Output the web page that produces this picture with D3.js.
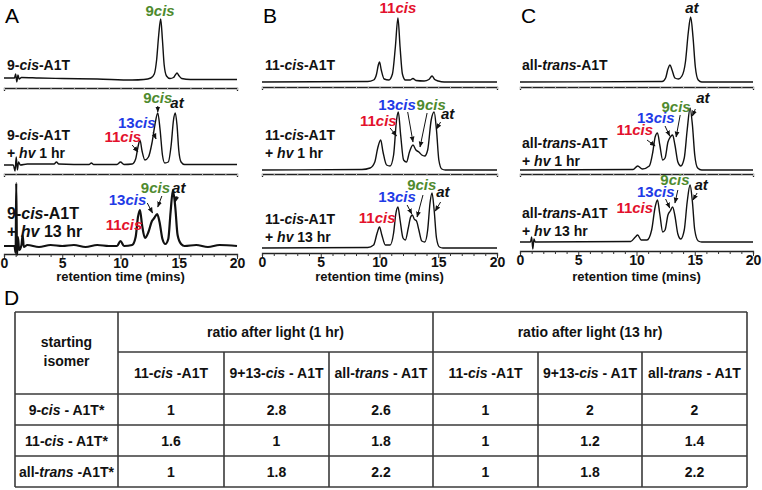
<!DOCTYPE html>
<meta charset="utf-8">
<script src="https://d3js.org/d3.v7.min.js"></script>
<body style="margin:0;background:#fff">
<div id="fig"></div>
</body>
<script>
// ---- data: HPLC traces, [time (min), signal] ----
const timeTicks = [0, 5, 10, 15, 20];

const a1 = [[0,2],[0.9,2],[1.0,6],[1.1,-2],[1.2,5],[1.3,1],[1.5,2.5],[3,2],[5,1.5],[8,1],[11,0],[12,0.5],[12.6,2],[12.9,6],[13.1,20],[13.28,45],[13.45,61],[13.6,40],[13.75,15],[13.95,4],[14.25,1.5],[14.55,2.5],[14.7,5],[14.85,7],[15.0,4.5],[15.25,1.5],[16,0.5],[20,0.5]];
const a2 = [[0,0],[0.8,0],[0.95,-6],[1.05,8],[1.15,-5],[1.25,3],[1.4,0],[2,1],[4.3,1],[4.5,3],[4.7,1],[7.3,0.5],[7.5,2],[7.7,0.5],[9.7,0.5],[10,3],[10.3,0.5],[11,1],[11.3,6],[11.5,18],[11.67,25],[11.85,14],[12.1,5],[12.4,8],[12.7,22],[12.95,40],[13.2,52],[13.4,35],[13.6,10],[13.8,2],[14.1,3],[14.35,20],[14.55,45],[14.7,52],[14.85,40],[15.0,15],[15.2,3],[15.5,0.5],[20,0.5]];
const a3 = [[0,1],[0.9,1],[1.0,-6],[1.05,64],[1.12,-8],[1.2,10],[1.3,-3],[1.5,2],[1.6,12],[1.7,0],[2,2],[3,0],[4,2],[5,1],[6,2],[7,0],[8,2],[9,1],[9.7,1],[10,6],[10.3,1],[11,2],[11.3,10],[11.5,30],[11.67,37],[11.85,22],[12.1,9],[12.4,15],[12.7,26],[12.9,29],[13.15,33],[13.35,25],[13.6,8],[13.85,3],[14.1,8],[14.3,35],[14.5,57],[14.7,40],[14.9,12],[15.2,3],[15.5,1],[16.5,2],[17.5,0],[18.5,2],[20,1]];

const b1 = [[0,0],[9,0.5],[9.5,2],[9.75,8],[9.9,17],[10.0,20],[10.15,12],[10.4,3],[10.8,2],[11.1,8],[11.35,35],[11.57,64],[11.75,35],[11.95,8],[12.2,2],[12.6,2],[12.85,3.5],[13.1,1.5],[13.8,1],[14.2,2.5],[14.47,6],[14.7,2.5],[15,1],[15.5,0],[20,0]];
const b2 = [[0,0],[8.5,0.5],[9.2,2],[9.6,8],[9.85,22],[10.1,30],[10.3,18],[10.6,5],[10.9,4],[11.2,15],[11.45,50],[11.6,58],[11.8,35],[12.05,10],[12.3,8],[12.55,18],[12.85,25],[13.1,20],[13.35,18],[13.6,15],[13.85,14],[14.1,20],[14.4,50],[14.65,58],[14.85,40],[15.05,10],[15.3,1],[15.6,0],[20,0]];
const b3 = [[0,0],[9,0.5],[9.5,3],[9.8,15],[10.0,21],[10.2,13],[10.5,3],[10.9,3],[11.2,15],[11.4,35],[11.57,41],[11.75,28],[12.0,10],[12.2,8],[12.45,20],[12.65,31],[12.8,33],[12.95,29],[13.15,27],[13.35,18],[13.6,7],[13.85,6],[14.1,18],[14.3,45],[14.47,55],[14.65,38],[14.85,10],[15.1,1],[15.4,0],[20,0]];

const c1 = [[0,0],[12.2,0.5],[12.5,4],[12.7,13],[12.88,17],[13.05,12],[13.3,4],[13.6,3],[13.9,6],[14.2,20],[14.45,50],[14.65,65],[14.85,45],[15.05,15],[15.3,2],[15.6,0],[20,0]];
const c2 = [[0,0],[9.7,0.5],[10.1,4],[10.5,1],[11.1,4],[11.4,18],[11.6,33],[11.8,37],[12.0,25],[12.25,10],[12.45,12],[12.7,28],[12.9,33],[13.1,35],[13.3,25],[13.55,8],[13.8,4],[14.1,12],[14.35,40],[14.6,62],[14.8,45],[15.0,15],[15.25,2],[15.6,0],[20,0]];
const c3 = [[0,0],[0.9,0],[1.0,5],[1.1,-7],[1.2,3],[1.3,0],[9.5,0.5],[9.9,5],[10.1,7],[10.4,2],[10.9,2],[11.3,12],[11.6,35],[11.8,42],[12.0,28],[12.25,10],[12.45,12],[12.7,27],[12.9,31],[13.1,35],[13.3,26],[13.55,8],[13.8,3],[14.1,12],[14.35,40],[14.6,57],[14.8,40],[15.0,12],[15.3,1],[15.6,0],[20,0]];

// sample names
const namesA = ["9-<i>cis</i>-A1T", "9-<i>cis</i>-A1T|+ <i>hv</i> 1 hr", "9-<i>cis</i>-A1T|+ <i>hv</i> 13 hr"];
const namesB = ["11-<i>cis</i>-A1T", "11-<i>cis</i>-A1T|+ <i>hv</i> 1 hr", "11-<i>cis</i>-A1T|+ <i>hv</i> 13 hr"];
const namesC = ["all-<i>trans</i>-A1T", "all-<i>trans</i>-A1T|+ <i>hv</i> 1 hr", "all-<i>trans</i>-A1T|+ <i>hv</i> 13 hr"];

// peak labels: [isomer, label t, label v, arrow from t, v, arrow to t, v]
const peaksA1 = [["9cis",13.4,64]];
const peaksA2 = [["9cis",13.2,62,13.2,59,13.2,53],["at",14.85,57],["13cis",11.4,37,12.8,33,13.05,26],["11cis",10.2,23,11.0,20,11.5,13]];
const peaksA3 = [["at",15.0,54,14.85,51,14.7,45],["9cis",13.0,54,13.55,51,13.2,40],["13cis",10.6,42,12.3,44,12.75,34],["11cis",10.3,17]];
const peaksB1 = [["11cis",11.57,69]];
const peaksB2 = [["13cis",11.5,60,12.4,58,12.85,28],["9cis",14.4,60,14.05,57,13.45,23],["at",15.8,51,15.2,48,14.85,41],["11cis",9.9,44,10.9,42,11.45,34]];
const peaksB3 = [["9cis",13.6,58,13.7,53,13.2,31],["at",15.4,51,15.2,46,14.75,37],["13cis",11.5,46,12.35,43,12.75,34],["11cis",9.8,25]];
const peaksC1 = [["at",14.75,69]];
const peaksC2 = [["at",15.7,67,15.05,61,14.8,54],["9cis",13.4,58,13.75,55,13.4,33],["13cis",11.65,47,12.45,44,12.85,34],["11cis",9.85,35,10.9,30,11.6,24]];
const peaksC3 = [["9cis",13.3,57,13.55,52,13.3,39],["at",15.55,52,15.2,49,14.85,42],["13cis",11.65,45,12.5,43,12.85,34],["11cis",9.85,29]];

// panel D table
const isomers = ["9-<i>cis</i> - A1T*", "11-<i>cis</i> - A1T*", "all-<i>trans</i> -A1T*"];
const productCols = ["11-<i>cis</i> -A1T", "9+13-<i>cis</i> - A1T", "all-<i>trans</i> - A1T"];
const groupHeads = ["ratio after light (1 hr)", "ratio after light (13 hr)"];
const ratio1hr = [[1, 2.8, 2.6], [1.6, 1, 1.8], [1, 1.8, 2.2]];
const ratio13hr = [[1, 2, 2], [1, 1.2, 1.4], [1, 1.8, 2.2]];

// ---- drawing ----
const W = 762, H = 490;
const svg = d3.select("#fig").append("svg").attr("width", W).attr("height", H)
  .style("font-family", "Arial, 'Liberation Sans', sans-serif");

const isoColor = {"9cis": "#4e8a2e", "11cis": "#e3112c", "13cis": "#1f3be6", "at": "#111"};

svg.append("defs").append("marker")
  .attr("id", "arr").attr("viewBox", "0 0 10 10").attr("refX", 9).attr("refY", 5)
  .attr("markerWidth", 6).attr("markerHeight", 6).attr("orient", "auto")
  .append("path").attr("d", "M0,1 L10,5 L0,9 z").attr("fill", "#111");

// write "<i>..</i>" markup into tspans
function rich(sel, str) {
  str.split(/(<i>.*?<\/i>)/).filter(s => s.length).forEach(s => {
    const it = s.startsWith("<i>");
    sel.append("tspan").style("font-style", it ? "italic" : "normal")
      .text(it ? s.slice(3, -4) : s);
  });
  return sel;
}

const panels = [
  {letter: "A", x0: 4, x1: 237, traces: [a1, a2, a3], names: namesA, peaks: [peaksA1, peaksA2, peaksA3],
   base: [80, 165, 247], axis: [88, 174, 254], nameY: [[70], [140, 158], [219, 237]], lx: 7},
  {letter: "B", x0: 262, x1: 497, traces: [b1, b2, b3], names: namesB, peaks: [peaksB1, peaksB2, peaksB3],
   base: [82, 170, 248], axis: [87, 174, 253], nameY: [[70], [140, 158], [224, 242]], lx: 265},
  {letter: "C", x0: 520, x1: 753, traces: [c1, c2, c3], names: namesC, peaks: [peaksC1, peaksC2, peaksC3],
   base: [82, 170, 242], axis: [87, 174, 251], nameY: [[70], [148, 166], [218, 236]], lx: 522}
];

panels.forEach(p => {
  const g = svg.append("g");
  const x = d3.scaleLinear().domain([0, 20]).range([p.x0, p.x1]);

  g.append("text").attr("x", p.x0 + 1).attr("y", 23).attr("font-size", 21).text(p.letter);

  p.traces.forEach((tr, i) => {
    const y = d3.scaleLinear().domain([0, 100]).range([p.base[i], p.base[i] - 100]);
    const last = i === 2;

    // axis under each trace
    const ax = d3.axisBottom(x).tickValues(d3.range(0, 21, 1))
      .tickSize(3).tickFormat(d => (last && timeTicks.includes(d)) ? d : "");
    const axg = g.append("g").attr("transform", `translate(0,${p.axis[i]})`).call(ax);
    axg.select(".domain").attr("stroke", "#222").attr("stroke-width", 1.3);
    axg.selectAll(".tick line").attr("stroke", last ? "#333" : "#bbb")
      .attr("y2", d => last ? (d % 5 === 0 ? 5 : 3) : 2);
    axg.selectAll(".tick text").attr("font-size", 14).attr("font-weight", "bold")
      .attr("fill", "#111").attr("dy", "0.55em");

    g.append("path").datum(tr)
      .attr("fill", "none").attr("stroke", "#111")
      .attr("stroke-width", (p.letter === "A" && last) ? 2.2 : 1.4)
      .attr("stroke-linejoin", "round")
      .attr("d", d3.line().x(d => x(d[0])).y(d => y(d[1])).curve(d3.curveMonotoneX));

    // sample name
    p.names[i].split("|").forEach((ln, j) => {
      const big = p.letter === "A" && last;
      rich(g.append("text").attr("x", p.lx).attr("y", p.nameY[i][j])
        .attr("font-size", big ? 16 : 14).attr("font-weight", "bold").attr("fill", "#111"), ln);
    });

    // peak labels and arrows
    p.peaks[i].forEach(pk => {
      const [iso, lt, lv] = pk;
      const t = g.append("text").attr("x", x(lt)).attr("y", y(lv))
        .attr("text-anchor", "middle").attr("font-size", 15).attr("font-weight", "bold")
        .attr("fill", isoColor[iso]);
      if (iso === "at") t.append("tspan").style("font-style", "italic").text("at");
      else rich(t, iso.replace("cis", "<i>cis</i>"));
      if (pk.length > 3) {
        g.append("line").attr("x1", x(pk[3])).attr("y1", y(pk[4]))
          .attr("x2", x(pk[5])).attr("y2", y(pk[6]))
          .attr("stroke", "#111").attr("stroke-width", 1).attr("marker-end", "url(#arr)");
      }
    });
  });

  g.append("text").attr("x", (p.x0 + p.x1) / 2).attr("y", 281).attr("text-anchor", "middle")
    .attr("font-size", 13).attr("font-weight", "bold").attr("fill", "#111").text("retention time (mins)");
});

// ---- panel D ----
svg.append("text").attr("x", 4).attr("y", 305).attr("font-size", 21).text("D");

const colX = [15, 118, 224, 329, 433, 538, 642, 747];
const rowY = [312, 352, 394, 425, 456, 487];
const tg = svg.append("g").attr("font-size", 14).attr("font-weight", "bold").attr("fill", "#111");
const ln = (x1, y1, x2, y2) => tg.append("line").attr("x1", x1).attr("y1", y1).attr("x2", x2).attr("y2", y2)
  .attr("stroke", "#3a3a3a").attr("stroke-width", 1.6);

ln(colX[0], rowY[0], colX[7], rowY[0]);
ln(colX[1], rowY[1], colX[7], rowY[1]);
rowY.slice(2).forEach(yy => ln(colX[0], yy, colX[7], yy));
[0, 1, 4, 7].forEach(c => ln(colX[c], rowY[0], colX[c], rowY[5]));
[2, 3, 5, 6].forEach(c => ln(colX[c], rowY[1], colX[c], rowY[5]));

const cx = c => (colX[c] + colX[c + 1]) / 2;
const cy = r => (rowY[r] + rowY[r + 1]) / 2 + 5;

tg.append("text").attr("x", cx(0)).attr("y", 347).attr("text-anchor", "middle").text("starting");
tg.append("text").attr("x", cx(0)).attr("y", 366).attr("text-anchor", "middle").text("isomer");
groupHeads.forEach((h, k) => {
  tg.append("text").attr("x", (colX[1 + 3 * k] + colX[4 + 3 * k]) / 2).attr("y", cy(0))
    .attr("text-anchor", "middle").text(h);
});
[0, 1].forEach(k => productCols.forEach((h, j) => {
  rich(tg.append("text").attr("x", cx(1 + 3 * k + j)).attr("y", cy(1)).attr("text-anchor", "middle"), h);
}));
isomers.forEach((s, r) => {
  rich(tg.append("text").attr("x", cx(0)).attr("y", cy(2 + r)).attr("text-anchor", "middle"), s);
  ratio1hr[r].forEach((v, j) => tg.append("text").attr("x", cx(1 + j)).attr("y", cy(2 + r))
    .attr("text-anchor", "middle").text(v));
  ratio13hr[r].forEach((v, j) => tg.append("text").attr("x", cx(4 + j)).attr("y", cy(2 + r))
    .attr("text-anchor", "middle").text(v));
});
</script>
